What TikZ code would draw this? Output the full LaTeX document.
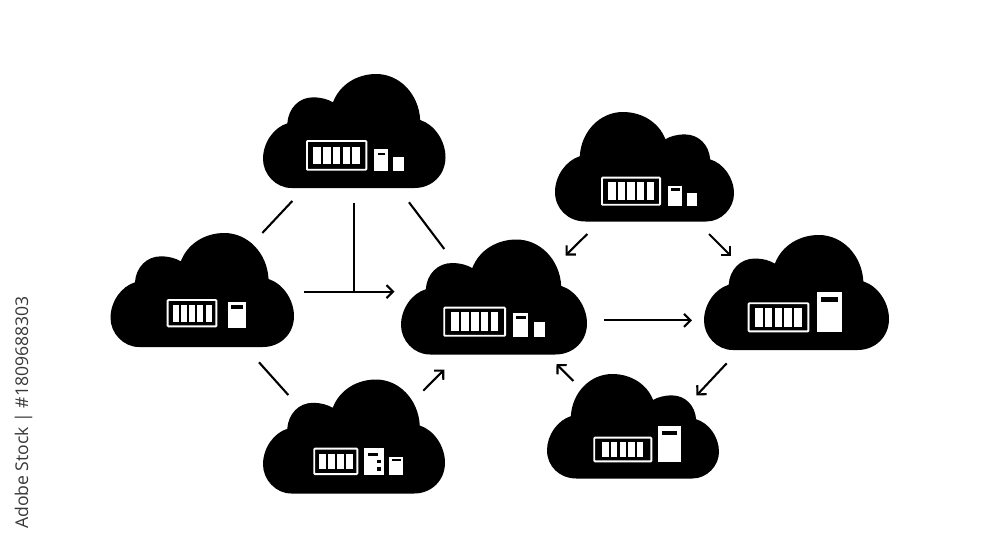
\documentclass[tikz,border=0pt]{standalone}
\usepackage{fontspec}
\setmainfont{Open Sans}
\usetikzlibrary{arrows.meta}
\tikzset{
  cloudshape/.style={fill=black,draw=none},
  rackframe/.style={draw=white,line width=1.9pt,rounded corners=0.8pt},
  whitepart/.style={fill=white,draw=none},
  slit/.style={fill=black,draw=none},
  link/.style={draw=black,line width=2.1pt},
  flow/.style={link,-{Straight Barb[length=6.5pt,width=13pt,line width=2.1pt]}},
  stamp/.style={rotate=90,text=black!78,font=\fontsize{17.6}{18}\selectfont,inner sep=0pt},
}
% name, origin x, top, signed width, height
\newcommand{\cloudat}[5]{%
  \begin{scope}[shift={(#2,#3)},xscale={(#4)/548},yscale={(#5)/342}]
    \path[cloudshape] (85,342) .. controls (38,342) and (0,300) .. (0,255)
      .. controls (0,205) and (33,160) .. (73,148)
      .. controls (76,103) and (108,70) .. (150,70)
      .. controls (175,70) and (195,76) .. (210,85)
      .. controls (230,32) and (282,0) .. (340,0)
      .. controls (410,0) and (468,60) .. (472,138)
      .. controls (515,152) and (548,200) .. (548,250)
      .. controls (548,302) and (508,342) .. (455,342) -- cycle;
    \coordinate (#1) at (274,171);
  \end{scope}}
% frame l,t,r,b ; bars l,t,r,b ; count
\newcommand{\rack}[9]{%
  \path[rackframe] ({#1+0.95},{#2+0.95}) rectangle ({#3-0.95},{#4-0.95});
  \pgfmathsetmacro{\barcount}{#9}
  \pgfmathsetmacro{\barpitch}{(#7-#5+2.2)/\barcount}
  \foreach \n in {1,...,#9}{
    \path[whitepart] ({#5+(\n-1)*\barpitch},#6) rectangle ({#5+\n*\barpitch-2.2},#8);
  }}
% box l,t,r,b ; slit l,t,r,b
\newcommand{\unitbox}[8]{%
  \path[whitepart] (#1,#2) rectangle (#3,#4);
  \path[slit] (#5,#6) rectangle (#7,#8);}
\begin{document}
\begin{tikzpicture}[x=1pt,y=-1pt]
\useasboundingbox (0,0) rectangle (1000,546);
\path[fill=white] (0,0) rectangle (1000,546);

\node[stamp] (credit) at (23.5,412.5) {Adobe Stock | \#1809688303};

% clouds
\cloudat{ca}{263}{74}{182.5}{114}
\cloudat{cb}{110.5}{233}{183.5}{114}
\cloudat{cc}{263}{379.5}{182}{114}
\cloudat{cd}{401}{239.5}{186}{115}
\cloudat{ce}{734}{112}{-179}{109.5}
\cloudat{cf}{704}{235}{185}{115}
\cloudat{cg}{719}{374}{-172}{104.5}

% cloud A
\rack{306}{140}{367.3}{170.7}{313.3}{146.7}{360}{164.3}{5}
\unitbox{374.3}{149.3}{388.3}{170.7}{378.3}{152.7}{385}{155}
\path[whitepart] (393.3,156.7) rectangle (404,170.7);
% cloud B
\rack{166.7}{299}{217.3}{327.3}{172.7}{305}{211.7}{321.7}{5}
\unitbox{228.3}{301.7}{246}{327.7}{231}{305}{243.3}{309}
% cloud C
\rack{313.3}{447.7}{358.3}{475}{319.3}{453.7}{352.7}{469.3}{4}
\unitbox{364.3}{448.3}{384.3}{475}{367.7}{452.7}{378.3}{456}
\path[slit] (377.3,460) rectangle (380.7,462.7);
\path[slit] (377.3,467.3) rectangle (380.7,470.7);
\unitbox{389.3}{456.7}{403.3}{475}{392}{459.3}{400.7}{461.3}
% cloud D
\rack{443.3}{306.7}{506}{336.7}{451}{312.3}{498.3}{331}{5}
\unitbox{512.7}{312.7}{528.3}{337.3}{516}{316}{526}{318.7}
\path[whitepart] (534,322.3) rectangle (545,337.3);
% cloud E
\rack{601}{176.7}{661}{205.7}{608.3}{182.3}{654}{200}{5}
\unitbox{668.3}{185.7}{682.3}{206}{671}{188.3}{680}{190.7}
\path[whitepart] (686.7,192.7) rectangle (697.3,206);
% cloud F
\rack{747.7}{302.3}{809.3}{332.3}{755}{308.3}{801.7}{326.7}{5}
\unitbox{816.7}{292.3}{841.7}{332.3}{820.7}{297}{837.7}{302.3}
% cloud G
\rack{593.3}{436.7}{652.3}{462.3}{602.3}{442}{643.3}{457.3}{5}
\unitbox{658.3}{426}{681}{462.3}{662}{430.7}{677.3}{435}

% connector ends
\coordinate (ab1) at (262.3,233);   \coordinate (ab2) at (292.3,201);
\coordinate (ad1) at (409,202.3);   \coordinate (ad2) at (444.3,249);
\coordinate (av1) at (354.3,203.3); \coordinate (av2) at (354.3,291.7);
\coordinate (bd1) at (304,291.7);   \coordinate (bd2) at (394.5,291.7);
\coordinate (bc1) at (259,362.3);   \coordinate (bc2) at (288.3,395);
\coordinate (cd1) at (423.3,390.7); \coordinate (cd2) at (444.3,369.5);
\coordinate (gd1) at (573.3,381);   \coordinate (gd2) at (556.5,364);
\coordinate (df1) at (604.3,320.3); \coordinate (df2) at (692,320.3);
\coordinate (ed1) at (587.3,234);   \coordinate (ed2) at (565.5,255.5);
\coordinate (ef1) at (709,234);     \coordinate (ef2) at (731,256);
\coordinate (fg1) at (726.7,363.3); \coordinate (fg2) at (696.5,395.5);

% connectors
\draw[link] (ab1) -- (ab2);
\draw[link] (ad1) -- (ad2);
\draw[link] (av1) -- (av2);
\draw[link] (bc1) -- (bc2);
\draw[flow] (bd1) -- (bd2);
\draw[flow] (cd1) -- (cd2);
\draw[flow] (gd1) -- (gd2);
\draw[flow] (df1) -- (df2);
\draw[flow] (ed1) -- (ed2);
\draw[flow] (ef1) -- (ef2);
\draw[flow] (fg1) -- (fg2);
\end{tikzpicture}
\end{document}
